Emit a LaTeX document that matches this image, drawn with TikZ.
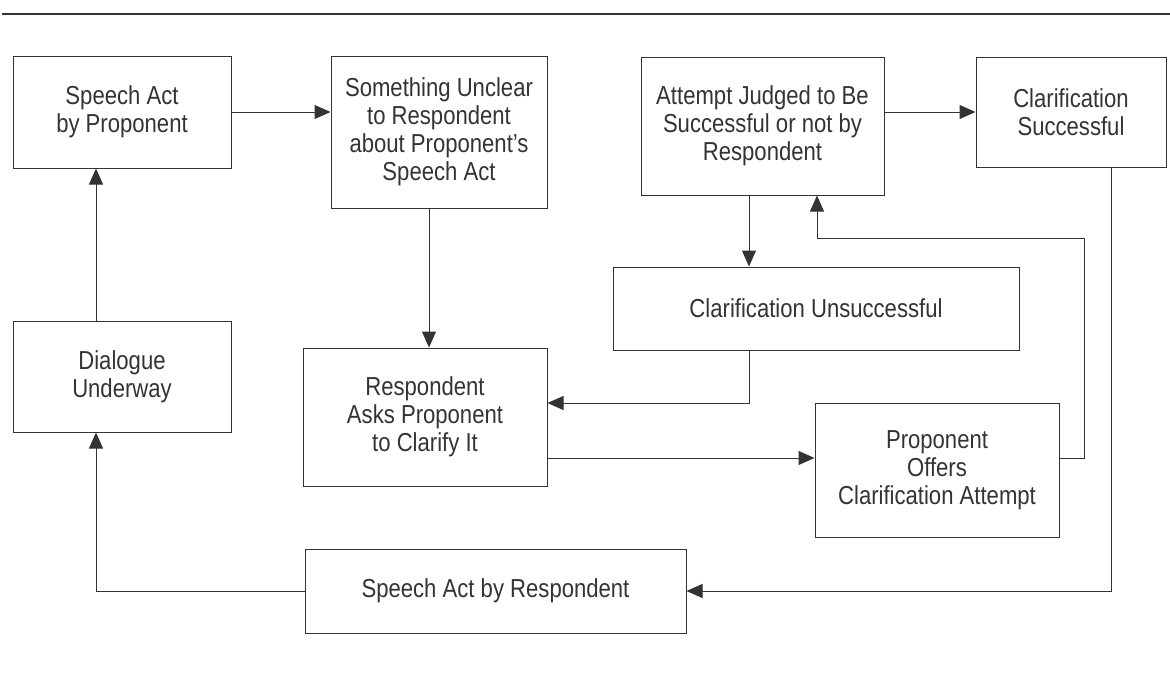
\documentclass[tikz,border=0pt]{standalone}
\usepackage{fontspec}
\setmainfont{Liberation Sans}[FakeStretch=0.85]
\usetikzlibrary{arrows.meta}
\definecolor{ink}{HTML}{333333}
\begin{document}
\begin{tikzpicture}[x=1pt,y=-1pt,
  box/.style={draw=ink, line width=1pt, align=center, text=ink, inner sep=0pt,
    font=\fontsize{26}{28}\selectfont},
  arr/.style={draw=ink, line width=1pt, -{Triangle[length=16pt,width=14pt]}}]
\useasboundingbox (0,0) rectangle (1170,678);
\draw[ink, line width=1.5pt] (2,14) -- (1170,14);

\node[box, minimum width=218pt, minimum height=112pt] (b1) at (122,112) {Speech Act\\by Proponent};
\node[box, minimum width=216pt, minimum height=152pt] (b2) at (439,132) {Something Unclear\\to Respondent\\about Proponent's\\Speech Act};
\node[box, minimum width=243pt, minimum height=138pt] (b3) at (762.5,126) {Attempt Judged to Be\\Successful or not by\\Respondent};
\node[box, minimum width=190pt, minimum height=110pt] (b4) at (1071,112) {Clarification\\Successful};
\node[box, minimum width=406pt, minimum height=83pt] (b5) at (816,308.5) {Clarification Unsuccessful};
\node[box, minimum width=218pt, minimum height=111pt] (b6) at (122,376.5) {Dialogue\\Underway};
\node[box, minimum width=244pt, minimum height=138pt] (b7) at (425,417) {Respondent\\Asks Proponent\\to Clarify It};
\node[box, minimum width=244pt, minimum height=134pt] (b8) at (937,470) {Proponent\\Offers\\Clarification Attempt};
\node[box, minimum width=381pt, minimum height=84pt] (b9) at (495.5,591) {Speech Act by Respondent};

\coordinate (xL) at (96,0);
\coordinate (xM) at (429,0);
\coordinate (xU) at (749,0);
\coordinate (xV) at (817,0);
\coordinate (xR) at (1084,0);
\coordinate (xS) at (1111,0);
\coordinate (yA) at (0,403);
\coordinate (yB) at (0,458);
\coordinate (yC) at (0,238);

\draw[arr] (b1.east) -- (b1.east -| b2.west);
\draw[arr] (b3.east |- b4.west) -- (b4.west);
\draw[arr] (b6.north -| xL) -- (b1.south -| xL);
\draw[arr] (b2.south -| xM) -- (b7.north -| xM);
\draw[arr] (b3.south -| xU) -- (b5.north -| xU);
\draw[arr] (b5.south -| xU) |- (b7.east |- yA);
\draw[arr] (b7.east |- yB) -- (b8.west |- yB);
\draw[arr] (b8.east |- yB) -| (xR |- yC) -| (b3.south -| xV);
\draw[arr] (b4.south -| xS) |- (b9.east);
\draw[arr] (b9.west) -| (b6.south -| xL);
\end{tikzpicture}
\end{document}
